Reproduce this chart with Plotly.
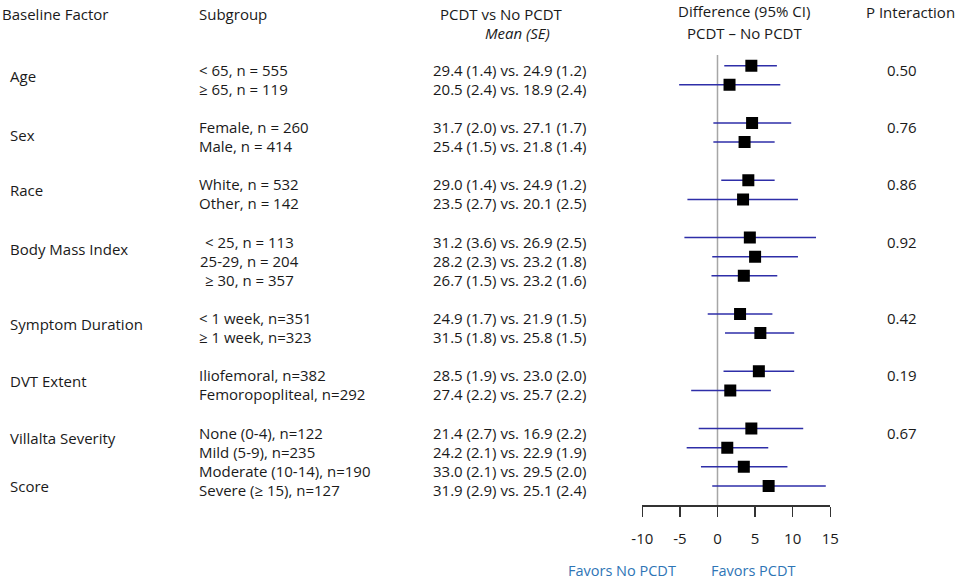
import plotly.graph_objects as go

# ---------------- data ----------------
factors = ["Age", "Sex", "Race", "Body Mass Index", "Symptom Duration",
           "DVT Extent", "Villalta Severity"]
group_sizes = [2, 2, 2, 3, 2, 2, 4]
subgroups = ["< 65, n = 555", "≥ 65, n = 119",
             "Female, n = 260", "Male, n = 414",
             "White, n = 532", "Other, n = 142",
             "< 25, n = 113", "25-29, n = 204", "≥ 30, n = 357",
             "< 1 week, n=351", "≥ 1 week, n=323",
             "Iliofemoral, n=382", "Femoropopliteal, n=292",
             "None (0-4), n=122", "Mild (5-9), n=235",
             "Moderate (10-14), n=190", "Severe (≥ 15), n=127"]
mean_se = ["29.4 (1.4) vs. 24.9 (1.2)", "20.5 (2.4) vs. 18.9 (2.4)",
           "31.7 (2.0) vs. 27.1 (1.7)", "25.4 (1.5) vs. 21.8 (1.4)",
           "29.0 (1.4) vs. 24.9 (1.2)", "23.5 (2.7) vs. 20.1 (2.5)",
           "31.2 (3.6) vs. 26.9 (2.5)", "28.2 (2.3) vs. 23.2 (1.8)",
           "26.7 (1.5) vs. 23.2 (1.6)",
           "24.9 (1.7) vs. 21.9 (1.5)", "31.5 (1.8) vs. 25.8 (1.5)",
           "28.5 (1.9) vs. 23.0 (2.0)", "27.4 (2.2) vs. 25.7 (2.2)",
           "21.4 (2.7) vs. 16.9 (2.2)", "24.2 (2.1) vs. 22.9 (1.9)",
           "33.0 (2.1) vs. 29.5 (2.0)", "31.9 (2.9) vs. 25.1 (2.4)"]
diff = [4.5, 1.6, 4.6, 3.6, 4.1, 3.4, 4.3, 5.0, 3.5, 3.0, 5.7, 5.5, 1.7,
        4.5, 1.3, 3.5, 6.8]
ci_lo = [0.9, -5.1, -0.55, -0.55, 0.5, -4.0, -4.4, -0.7, -0.8, -1.3, 1.0,
         0.8, -3.5, -2.5, -4.1, -2.2, -0.7]
ci_hi = [7.9, 8.35, 9.8, 7.6, 7.6, 10.7, 13.1, 10.7, 7.95, 7.3, 10.2, 10.2,
         7.1, 11.4, 6.75, 9.3, 14.4]
p_interaction = ["0.50", "0.76", "0.86", "0.92", "0.42", "0.19", "0.67"]
x_ticks = [-10, -5, 0, 5, 10, 15]
x_tick_labels = ["-10", "-5", "0", "5", "10", "15"]

# ---------------- layout helpers ----------------
W, H = 956, 581
FONT = "Open Sans"
TXT = "#1a1a1a"

# row index for each subgroup (blank row between groups)
rows, group_start = [], []
r = 0
for n in group_sizes:
    group_start.append(r)
    rows.extend(range(r, r + n))
    r += n + 1

row_px0, row_step, axis_px = 65.7, 19.1, 505
y_top = -row_px0 / row_step
y_bot = (axis_px - row_px0) / row_step


def px(x):
    return x / W


def py(y):
    return 1 - y / H


fig = go.Figure()

# zero reference line
fig.add_trace(go.Scatter(x=[0, 0], y=[-0.56, y_bot], mode="lines",
                         line=dict(color="#a6a6a6", width=1.5),
                         hoverinfo="skip", showlegend=False))

# estimates with CI
fig.add_trace(go.Scatter(
    x=diff, y=rows, mode="markers",
    marker=dict(symbol="square", size=12, color="black"),
    error_x=dict(type="data", symmetric=False,
                 array=[h - d for h, d in zip(ci_hi, diff)],
                 arrayminus=[d - l for l, d in zip(ci_lo, diff)],
                 width=0, thickness=1.5, color="#2e2ea8"),
    showlegend=False))

ann = []
fnt = dict(family=FONT, size=15, color=TXT)

# headers
ann += [
    dict(x=px(0), y=py(14), xanchor="left", text="Baseline Factor"),
    dict(x=px(197), y=py(14), xanchor="left", text="Subgroup"),
    dict(x=px(502), y=py(14), xanchor="center", text="PCDT vs No PCDT"),
    dict(x=px(517), y=py(33), xanchor="center", text="<i>Mean (SE)</i>"),
    dict(x=px(744), y=py(11), xanchor="center", text="Difference (95% CI)"),
    dict(x=px(744), y=py(33), xanchor="center", text="PCDT – No PCDT"),
    dict(x=px(910), y=py(12), xanchor="center", text="P Interaction"),
]
for a in ann:
    a.update(xref="paper", yref="paper", yanchor="middle", showarrow=False,
             font=fnt)

row_ann = []
# factor labels
factor_offsets = [0.33, 0.42, 0.32, 0.4, 0.31, 0.32, 0.28]
for f, s, off in zip(factors, group_start, factor_offsets):
    row_ann.append(dict(x=px(8), y=s + off, xanchor="left", text=f))
row_ann.append(dict(x=px(8), y=group_start[-1] + group_sizes[-1] - 1 - 0.18,
                    xanchor="left", text="Score"))

# subgroup labels and mean (SE) column
k = 0
for g, n in enumerate(group_sizes):
    for j in range(n):
        if factors[g] == "Body Mass Index":
            row_ann.append(dict(x=px(249.5), y=rows[k], xanchor="center",
                                text=subgroups[k]))
        else:
            row_ann.append(dict(x=px(197), y=rows[k], xanchor="left",
                                text=subgroups[k]))
        row_ann.append(dict(x=px(431), y=rows[k], xanchor="left",
                            text=mean_se[k]))
        k += 1

# p values
for s, p in zip(group_start, p_interaction):
    row_ann.append(dict(x=px(901.7), y=s, xanchor="center", text=p))

for a in row_ann:
    a.update(xref="paper", yref="y", yanchor="middle", yshift=-4,
             showarrow=False, font=fnt)

# favors labels
blue = dict(family=FONT, size=14.5, color="#2e75b6")
ann += [
    dict(x=px(621.5), y=py(581), xref="paper", yref="paper", xanchor="center",
         yanchor="bottom", text="Favors No PCDT", showarrow=False, font=blue,
         borderpad=0),
    dict(x=px(752.5), y=py(581), xref="paper", yref="paper", xanchor="center",
         yanchor="bottom", text="Favors PCDT", showarrow=False, font=blue,
         borderpad=0),
]

fig.update_layout(
    width=W, height=H, autosize=False,
    margin=dict(l=0, r=0, t=0, b=0, pad=0, autoexpand=False),
    paper_bgcolor="white", plot_bgcolor="white",
    annotations=ann + row_ann,
    xaxis=dict(domain=[642.3 / W, 830.3 / W], range=[-10, 15],
               tickvals=x_ticks, ticktext=x_tick_labels,
               ticks="outside", ticklen=10, tickwidth=1.5,
               tickcolor="#333", showline=True, linecolor="#333",
               linewidth=1.5, showgrid=False, zeroline=False,
               automargin=False,
               ticklabelstandoff=9,
               tickfont=dict(family=FONT, size=15, color=TXT)),
    yaxis=dict(domain=[(H - axis_px) / H, 1], range=[y_bot, y_top],
               visible=False, showgrid=False, zeroline=False,
               automargin=False),
)

fig.write_html("out.html",
               config={"displayModeBar": False, "staticPlot": True},
               post_script="document.body.style.margin='0';"
                           "document.body.style.overflow='hidden';")
